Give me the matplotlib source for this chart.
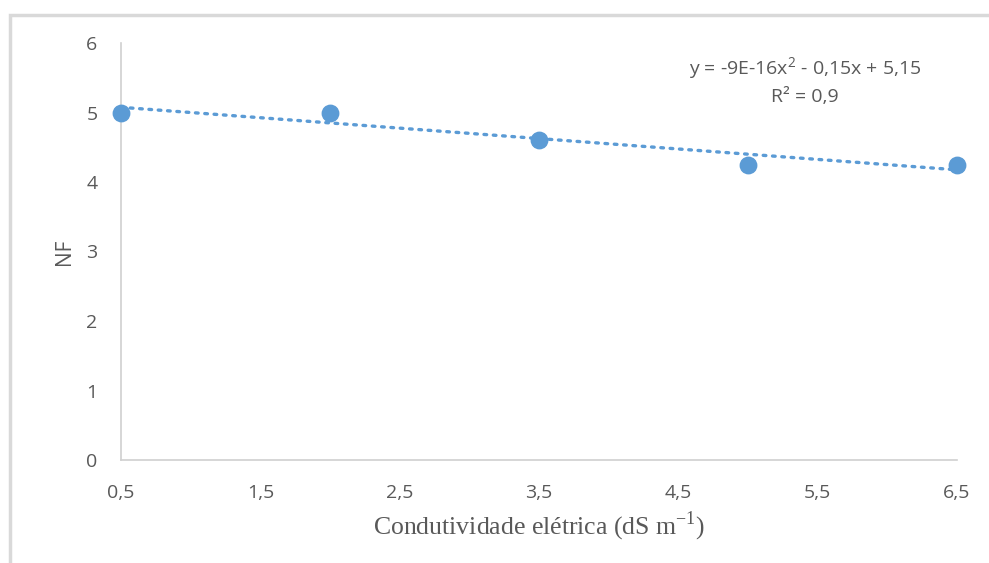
import numpy as np
import matplotlib.pyplot as plt
from matplotlib.patches import Rectangle

# Data
ce = [0.5, 2.0, 3.5, 5.0, 6.5]
nf = [5.0, 5.0, 4.6, 4.25, 4.25]
trend_coef = [-9e-16, -0.15, 5.15]  # as shown in the equation
xticks = [0.5, 1.5, 2.5, 3.5, 4.5, 5.5, 6.5]
yticks = [0, 1, 2, 3, 4, 5, 6]

blue = '#5B9BD5'
gray = '#595959'
plt.rcParams['font.family'] = ['Open Sans', 'DejaVu Sans']

fig = plt.figure(figsize=(9.89, 5.63), dpi=100)
ax = fig.add_axes([121 / 989, 1 - 460 / 563, (957 - 121) / 989, (460 - 43) / 563])

# outer frame (only left and top visible)
fig.patches.append(Rectangle((10 / 989, -0.1), 1.2, 1 - 15 / 563 + 0.1,
                             transform=fig.transFigure, fill=False,
                             edgecolor='#D9D9D9', lw=2.5, zorder=0))

xs = np.linspace(0.5, 6.5, 200)
ax.plot(xs, np.polyval(trend_coef, xs), ls=(0, (0.8, 2.0)), color=blue, lw=2.4,
        dash_capstyle='round', zorder=2)
ax.scatter(ce, nf, s=140, color=blue, zorder=3, clip_on=False)

ax.set_xlim(0.5, 6.5)
ax.set_ylim(0, 6)
ax.set_xticks(xticks)
ax.set_xticklabels([f'{v:.1f}'.replace('.', ',') for v in xticks])
ax.set_yticks(yticks)
ax.tick_params(length=0, labelsize=14, labelcolor=gray)
ax.tick_params(axis='x', pad=17)
ax.tick_params(axis='y', pad=17)
for s in ['top', 'right']:
    ax.spines[s].set_visible(False)
for s in ['left', 'bottom']:
    ax.spines[s].set_color('#D0D0D0')
    ax.spines[s].set_linewidth(1.2)

ax.set_xlabel(r'Condutividade elétrica (dS m$^{\mathregular{-1}}$)', family='Liberation Serif',
              fontsize=18.5, color=gray, labelpad=6)
ax.set_ylabel('NF', fontsize=15, color=gray, labelpad=8)

ax.text(0.818, 0.91, 'y = -9E-16x$^{\\mathregular{2}}$ - 0,15x + 5,15\nR² = 0,9',
        transform=ax.transAxes, ha='center', va='center', fontsize=14, color=gray,
        linespacing=1.45)

fig.savefig('out.png', dpi=100)
